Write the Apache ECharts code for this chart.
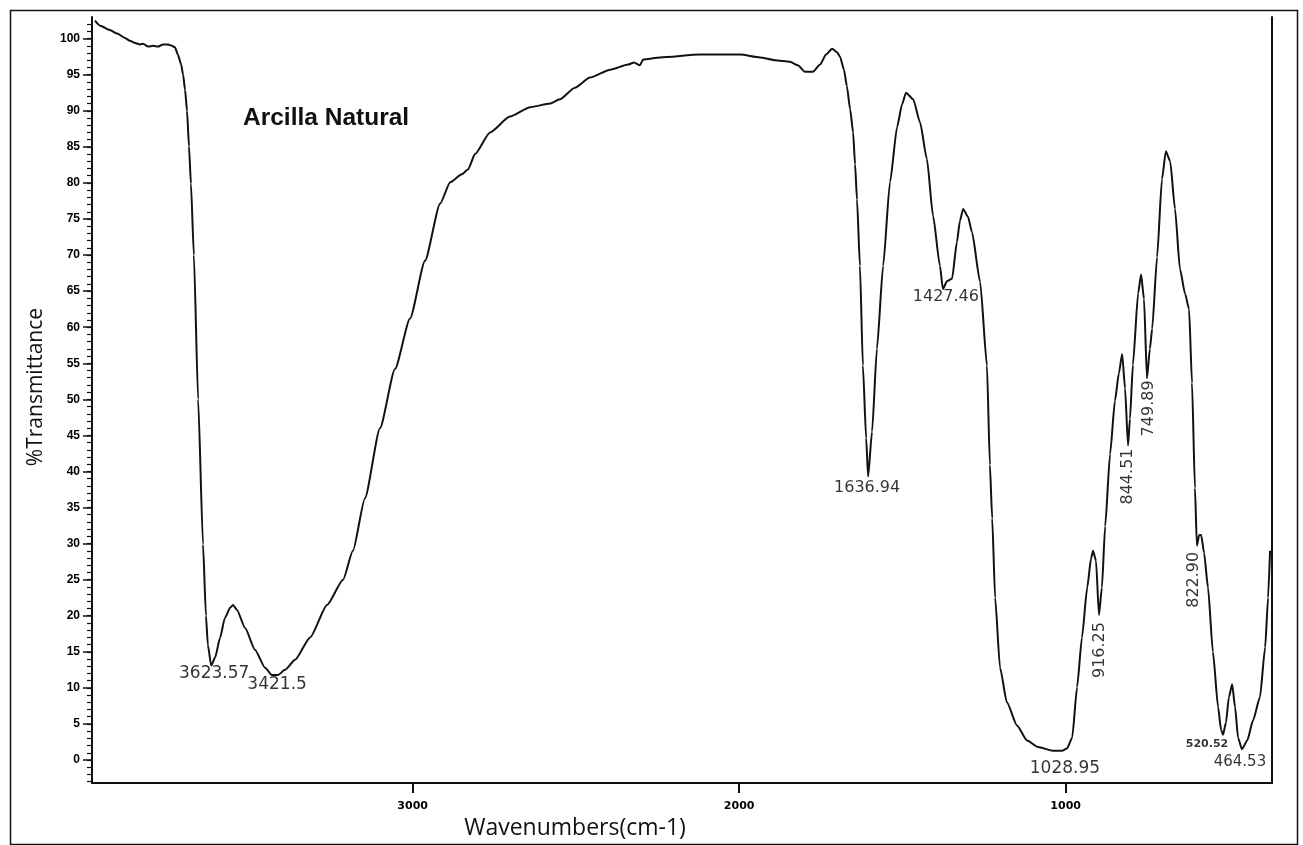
<!DOCTYPE html>
<html>
<head>
<meta charset="utf-8">
<script src="https://cdn.jsdelivr.net/npm/echarts@6/dist/echarts.min.js"></script>
<style>
html,body{margin:0;padding:0;background:#fff;}
#chart{width:1303px;height:845px;}
</style>
</head>
<body>
<div id="chart"></div>
<script>
// ---- data ----
const wavenumber = [3973,3957,3927,3905,3881,3866,3850,3835,3826,3810,3795,3780,3764,3749,3737,3728,3719,3709,3703,3697,3691,3685,3679,3670,3657,3642,3633,3627,3617,3605,3590,3575,3559,3550,3538,3513,3483,3452,3431,3412,3391,3360,3314,3262,3213,3183,3146,3100,3054,3008,2962,2916,2885,2849,2830,2809,2763,2702,2640,2579,2549,2503,2457,2395,2340,2322,2304,2294,2242,2120,1997,1936,1890,1844,1820,1798,1774,1752,1734,1715,1700,1691,1679,1670,1660,1651,1645,1639,1630,1621,1611,1605,1593,1578,1559,1538,1516,1501,1489,1467,1446,1425,1406,1385,1376,1363,1348,1333,1324,1314,1299,1287,1262,1241,1232,1225,1216,1201,1180,1149,1118,1085,1039,1011,996,980,965,950,934,922,916,907,898,889,879,864,849,837,827,818,809,803,794,778,769,760,751,742,735,720,705,693,680,665,650,634,622,613,604,598,591,585,576,564,549,533,524,518,509,500,490,481,472,460,444,426,405,389,380,374];
const transmittance = [102.5,101.8,101.2,100.7,100.1,99.7,99.4,99.2,99.3,98.9,99.0,98.9,99.2,99.2,99.0,98.8,97.8,96.4,95.0,92.9,90.0,85.1,79.9,70.0,50.0,29.9,20.0,15.9,13.1,14.2,16.9,19.7,21.1,21.5,20.8,18.3,15.3,12.8,11.8,11.8,12.5,13.9,17.0,21.5,25.0,29.0,36.3,46.0,54.2,61.2,69.2,77.1,80.1,81.2,81.9,84.0,87.0,89.2,90.5,91.0,91.6,93.2,94.6,95.7,96.4,96.7,96.3,97.1,97.4,97.8,97.8,97.4,97.0,96.8,96.3,95.4,95.4,96.4,97.8,98.6,98.1,97.5,95.7,93.4,90.2,87.0,82.6,77.7,68.5,54.7,44.6,39.3,45.5,57.0,68.5,80.1,87.8,90.9,92.5,91.6,88.4,83.3,75.4,68.5,65.3,66.4,66.7,71.8,74.7,76.4,75.3,73.2,66.3,54.7,40.9,33.5,22.5,12.8,8.0,4.8,2.7,1.8,1.3,1.3,1.6,3.1,10.1,17.0,23.9,28.0,29.0,27.6,20.1,23.9,32.4,42.4,49.8,53.6,56.3,51.5,43.6,47.3,54.8,64.7,67.3,63.9,52.9,57.0,59.8,69.7,80.5,84.4,83.0,76.4,68.1,64.6,62.5,52.3,37.7,29.7,31.2,31.2,28.7,23.9,15.0,7.3,4.2,3.5,5.2,8.7,10.5,7.3,3.1,1.5,2.7,5.5,8.7,15.6,22.5,29.0];

const xTickValues = [1000, 2000, 3000];
const yTickValues = [0,5,10,15,20,25,30,35,40,45,50,55,60,65,70,75,80,85,90,95,100];
const yMinorTickValues = [-3,-2,-1,0,1,2,3,4,5,6,7,8,9,10,11,12,13,14,15,16,17,18,19,20,21,22,23,24,25,26,27,28,29,30,31,32,33,34,35,36,37,38,39,40,41,42,43,44,45,46,47,48,49,50,51,52,53,54,55,56,57,58,59,60,61,62,63,64,65,66,67,68,69,70,71,72,73,74,75,76,77,78,79,80,81,82,83,84,85,86,87,88,89,90,91,92,93,94,95,96,97,98,99,100,101,102];

const peakText = ['3623.57','3421.5','1636.94','1427.46','1028.95','916.25','844.51','749.89','822.90','520.52','464.53'];
const peakWn   = [3617, 3412, 1605, 1376, 1039, 898, 809, 751, 598, 518, 460];
const peakT    = [13.1, 11.8, 39.3, 65.3, 1.3, 20.1, 43.6, 52.9, 29.7, 3.5, 1.5];

const titleText = 'Arcilla Natural';
const xName = 'Wavenumbers(cm-1)';
const yName = '%Transmittance';

// ---- styles for peak labels: screen offset [dx, dy] in px, rotation, font size ----
const peakStyle = [
  {d:[3,8],   rotate:0,  size:17},
  {d:[-1,10], rotate:0,  size:17},
  {d:[-1,11], rotate:0,  size:16},
  {d:[3,8],   rotate:0,  size:16},
  {d:[12,18], rotate:0,  size:17},
  {d:[1,35],  rotate:90, size:16},
  {d:[0,31],  rotate:90, size:16},
  {d:[2,30],  rotate:90, size:16},
  {d:[-3,34], rotate:90, size:16},
  {d:[-16,9], rotate:0,  size:11, weight:'bold'},
  {d:[-2,13], rotate:0,  size:15}
];

// label offsets are applied in the rotated frame, so convert screen offsets
function labelOffset(s) {
  if (s.rotate === 90) return [-s.d[1], s.d[0]];
  return s.d;
}

const lineData = wavenumber.map((w, i) => [w, transmittance[i]]);
const peakData = peakText.map((t, i) => ({
  value: [peakWn[i], peakT[i]],
  label: {
    show: true,
    formatter: t,
    position: 'inside',
    offset: labelOffset(peakStyle[i]),
    rotate: peakStyle[i].rotate,
    fontSize: peakStyle[i].size,
    fontWeight: peakStyle[i].weight || 'normal',
    fontFamily: 'DejaVu Sans',
    color: '#000'
  }
}));

const chart = echarts.init(document.getElementById('chart'), null, {renderer: 'canvas'});
const GRID = {left: 92, top: 17, width: 1180, height: 769};

chart.setOption({
  backgroundColor: '#fff',
  animation: false,
  title: {
    text: titleText,
    left: 238, top: 101,
    textStyle: {fontFamily: 'Liberation Sans', fontWeight: 'bold', fontSize: 24.5, color: '#111'}
  },
  grid: GRID,
  xAxis: {
    type: 'value', inverse: true, min: 368, max: 3982,
    axisLine: {show: true, onZero: false, lineStyle: {color: '#111', width: 2}},
    axisTick: {show: true, inside: false, length: 10, customValues: xTickValues, lineStyle: {color: '#111', width: 2}},
    axisLabel: {show: true, customValues: xTickValues, margin: 18, formatter: v => String(v),
      fontFamily: 'DejaVu Sans', fontWeight: 'bold', fontSize: 11, color: '#000'},
    splitLine: {show: false},
    name: xName, nameLocation: 'middle', nameGap: 26,
    nameTextStyle: {fontFamily: 'Open Sans', fontSize: 23, color: '#111', padding: [0, 214, 0, 0], verticalAlign: 'top'}
  },
  yAxis: [
    {
      type: 'value', min: -3.2, max: 103, position: 'left',
      axisLine: {show: true, onZero: false, lineStyle: {color: '#111', width: 2}},
      axisTick: {show: true, length: 9, customValues: yTickValues, lineStyle: {color: '#111', width: 1.5}},
      axisLabel: {show: true, customValues: yTickValues, margin: 12, formatter: v => String(v),
        fontFamily: 'Liberation Sans', fontWeight: 'bold', fontSize: 12, color: '#000'},
      splitLine: {show: false},
      name: yName, nameLocation: 'middle', nameGap: 45, nameRotate: 90,
      nameTextStyle: {fontFamily: 'Open Sans', fontSize: 21, color: '#111', padding: [0, 0, 0, 26]}
    },
    {
      type: 'value', min: -3.2, max: 103, position: 'left',
      axisLine: {show: false},
      axisTick: {show: true, length: 5, customValues: yMinorTickValues, lineStyle: {color: '#111', width: 1.2}},
      axisLabel: {show: false},
      splitLine: {show: false}
    },
    {
      type: 'value', min: -3.2, max: 103, position: 'right',
      axisLine: {show: true, onZero: false, lineStyle: {color: '#111', width: 2}},
      axisTick: {show: false}, axisLabel: {show: false}, splitLine: {show: false}
    }
  ],
  graphic: [{
    type: 'rect', left: 8, top: 8, silent: true,
    shape: {x: 0, y: 0, width: 1287, height: 834},
    style: {fill: 'none', stroke: '#111', lineWidth: 1.5}
  }],
  series: [{
    type: 'line',
    data: lineData,
    xAxisIndex: 0, yAxisIndex: 0,
    showSymbol: false,
    smooth: 0.2,
    smoothMonotone: 'x',
    lineStyle: {color: '#111', width: 2},
    silent: true
  }, {
    type: 'scatter',
    data: peakData,
    xAxisIndex: 0, yAxisIndex: 0,
    symbol: 'circle',
    symbolSize: 1,
    itemStyle: {color: 'rgba(0,0,0,0)'},
    silent: true,
    z: 5
  }]
});
</script>
</body>
</html>
